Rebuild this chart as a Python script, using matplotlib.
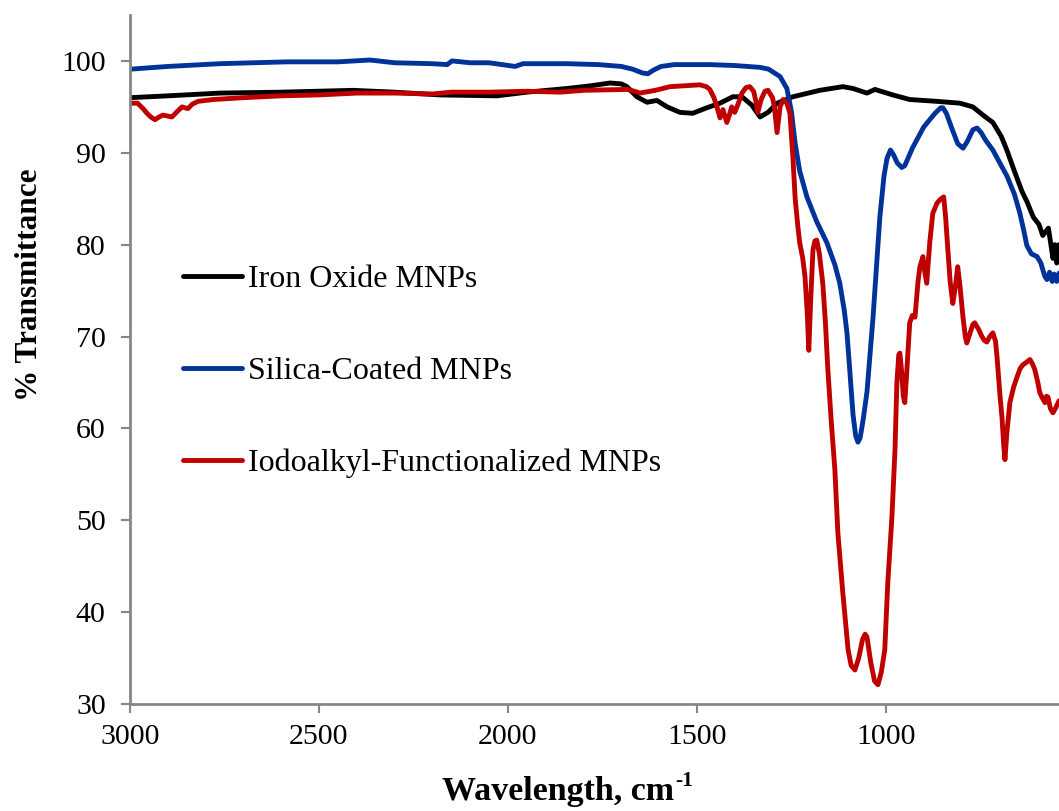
import matplotlib
matplotlib.use("Agg")
import matplotlib.pyplot as plt

plt.rcParams['font.family'] = ['Liberation Serif', 'DejaVu Serif']

# ---------------- data ----------------
iron_x = [3000, 2900, 2762, 2600, 2410, 2300, 2180, 2029, 1950, 1844, 1780, 1730, 1700,
          1685, 1659, 1632, 1606, 1579, 1545, 1511, 1474, 1439, 1405, 1381, 1355, 1333,
          1312, 1288, 1246, 1175, 1114, 1087, 1065, 1050, 1029, 982, 937, 865, 804, 770,
          743, 717, 695, 680, 660, 640, 627, 610, 595, 585, 570, 558, 553, 548, 545, 542]
iron_y = [96.0, 96.2, 96.5, 96.6, 96.8, 96.6, 96.3, 96.2, 96.6, 97.0, 97.3, 97.6, 97.5,
          97.2, 96.1, 95.5, 95.7, 95.0, 94.4, 94.3, 94.9, 95.4, 96.1, 96.1, 95.2, 93.9,
          94.4, 95.4, 96.1, 96.8, 97.2, 97.0, 96.7, 96.5, 96.9, 96.3, 95.8, 95.6, 95.4, 95.0,
          94.1, 93.3, 91.8, 90.3, 88.0, 85.8, 84.7, 83.0, 82.2, 81.0, 81.8, 78.5, 80.0, 78.0,
          79.5, 80.0]

silica_x = [3000, 2900, 2762, 2585, 2450, 2365, 2300, 2200, 2161, 2148, 2100, 2050, 1981,
            1960, 1900, 1844, 1760, 1700, 1670, 1645, 1630, 1615, 1595, 1560, 1466, 1400,
            1333, 1310, 1299, 1280, 1262, 1250, 1240, 1228, 1209, 1183, 1156, 1135, 1122,
            1110, 1103, 1095, 1087, 1080, 1074, 1068, 1060, 1050, 1034, 1016, 1005, 997,
            988, 980, 970, 958, 950, 930, 900, 870, 855, 849, 840, 825, 810, 796, 785, 770,
            759, 748, 735, 717, 700, 680, 660, 646, 635, 627, 615, 600, 590, 580, 574, 567,
            560, 555, 548, 542]
silica_y = [99.1, 99.4, 99.7, 99.9, 99.9, 100.1, 99.8, 99.7, 99.6, 100.0, 99.8, 99.8, 99.4,
            99.7, 99.7, 99.7, 99.6, 99.4, 99.1, 98.7, 98.6, 99.0, 99.4, 99.6, 99.6, 99.5,
            99.3, 99.1, 98.8, 98.3, 97.0, 94.5, 91.0, 88.0, 85.2, 82.5, 80.2, 77.8, 75.8,
            72.8, 70.4, 66.0, 61.5, 59.2, 58.5, 59.0, 61.0, 64.0, 72.1, 83.0, 87.5, 89.4,
            90.3, 89.8, 88.9, 88.4, 88.6, 90.5, 92.8, 94.3, 94.9, 94.9, 94.3, 92.6, 91.0,
            90.5, 91.2, 92.5, 92.7, 92.2, 91.3, 90.3, 89.0, 87.5, 85.5, 83.5, 81.5, 79.9,
            79.0, 78.7, 78.0, 76.6, 76.2, 77.0, 76.0, 76.8, 76.0, 76.9]

iodo_x = [3000, 2980, 2965, 2955, 2945, 2934, 2923, 2913, 2900, 2889, 2875, 2862, 2847, 2835,
          2820, 2780, 2700, 2600, 2500, 2400, 2300, 2200, 2150, 2050, 1950, 1862, 1800, 1685,
          1665, 1651, 1610, 1571, 1530, 1492, 1475, 1466, 1455, 1447, 1439, 1431, 1421, 1415,
          1408, 1400, 1392, 1381, 1370, 1360, 1350, 1345, 1339, 1330, 1320, 1312, 1300, 1295,
          1288, 1280, 1272, 1262, 1254, 1246, 1240, 1233, 1228, 1220, 1214, 1208, 1204, 1199,
          1193, 1188, 1183, 1176, 1167, 1160, 1154, 1145, 1135, 1127, 1114, 1100, 1092, 1082,
          1072, 1062, 1055, 1050, 1040, 1030, 1021, 1012, 1003, 995, 984, 976, 971, 966, 963,
          958, 954, 950, 945, 937, 930, 923, 915, 910, 902, 897, 892, 888, 884, 876, 865, 857,
          847, 842, 836, 830, 823, 816, 810, 804, 796, 790, 786, 778, 770, 765, 755, 746, 740,
          733, 725, 717, 710, 706, 698, 693, 688, 685, 680, 672, 662, 653, 645, 638, 628, 619,
          612, 606, 598, 593, 586, 579, 575, 571, 565, 558, 550, 542]
iodo_y = [95.4, 95.4, 94.8, 94.3, 93.9, 93.6, 93.9, 94.1, 94.0, 93.9, 94.5, 95.0, 94.8, 95.3,
          95.6, 95.8, 96.0, 96.2, 96.3, 96.5, 96.5, 96.4, 96.6, 96.6, 96.7, 96.6, 96.8, 96.9,
          96.7, 96.5, 96.8, 97.2, 97.3, 97.4, 97.2, 96.9, 96.0, 95.0, 93.8, 94.7, 93.3, 94.0,
          95.0, 94.4, 95.2, 96.5, 97.1, 97.2, 96.7, 95.8, 94.4, 95.8, 96.7, 96.8, 96.0, 95.0,
          92.2, 95.0, 95.8, 95.4, 94.3, 89.5, 85.0, 82.0, 80.2, 78.5, 76.5, 72.5, 68.5, 74.0,
          79.4, 80.4, 80.5, 79.0, 75.8, 71.5, 66.7, 61.0, 55.5, 48.6, 42.1, 35.9, 34.2, 33.7,
          35.0, 37.0, 37.6, 37.3, 34.5, 32.5, 32.1, 33.5, 35.9, 43.2, 50.4, 57.6, 64.9, 68.0, 68.2,
          66.0, 63.5, 62.8, 66.0, 71.5, 72.3, 72.1, 76.0, 77.6, 78.7, 77.0, 75.8, 78.0, 80.2, 83.4,
          84.5, 84.9, 85.2, 83.0, 79.4, 76.0, 73.6, 75.5, 77.6, 75.5, 72.1, 70.0, 69.3, 70.3,
          71.3, 71.5, 70.8, 70.0, 69.6, 69.4, 70.0, 70.4, 69.5, 67.8, 63.5, 61.3, 58.0, 56.6,
          59.5, 62.8, 64.5, 65.6, 66.5, 66.9, 67.2, 67.5, 67.0, 66.4, 65.0, 63.9, 63.3, 62.8,
          63.5, 63.4, 62.2, 61.7, 62.3, 63.0]

series_labels = ["Iron Oxide MNPs", "Silica-Coated MNPs", "Iodoalkyl-Functionalized MNPs"]
x_ticks = [3000, 2500, 2000, 1500, 1000]
y_ticks = [30, 40, 50, 60, 70, 80, 90, 100]

# ---------------- figure ----------------
W, H = 1059, 811
fig = plt.figure(figsize=(W / 100, H / 100), dpi=100)
ax = fig.add_axes([130 / W, 1 - 704 / H, (W - 130) / W, (704 - 15) / H])

colors = ["#000000", "#003399", "#C00000"]
lw = 3.5
ax.plot(iron_x, iron_y, color=colors[0], lw=lw, label=series_labels[0],
        solid_joinstyle='round', solid_capstyle='round')
ax.plot(silica_x, silica_y, color=colors[1], lw=lw, label=series_labels[1],
        solid_joinstyle='round', solid_capstyle='round')
ax.plot(iodo_x, iodo_y, color=colors[2], lw=lw, label=series_labels[2],
        solid_joinstyle='round', solid_capstyle='round')

ax.set_xlim(3000, 542)
ax.set_ylim(30, 105)
ax.set_xticks(x_ticks)
ax.set_yticks(y_ticks)
ax.set_xticklabels([str(v) for v in x_ticks])
ax.set_yticklabels([str(v) for v in y_ticks])

gray = "#868686"
for s in ['top', 'right']:
    ax.spines[s].set_visible(False)
for s in ['left', 'bottom']:
    ax.spines[s].set_color(gray)
    ax.spines[s].set_linewidth(2.0)
ax.tick_params(axis='both', direction='out', color=gray, width=1.5, length=6.5,
               labelsize=21.5, labelcolor='black')
ax.tick_params(axis='y', pad=11)
ax.tick_params(axis='x', pad=8)

leg = ax.legend(loc='upper left', bbox_to_anchor=((183 - 130) / (W - 130), (704 - 265) / 689),
                frameon=False, fontsize=23, handlelength=1.85, handletextpad=0.2,
                labelspacing=1.95, borderpad=0, borderaxespad=0)

fig.text(30 / W, 1 - 285 / H, "% Transmittance", rotation=90, ha='center', va='center',
         fontsize=22.5, fontweight='bold')

# x label with a small superscript "-1"
main = fig.text(442 / W, 1 - 800 / H, "Wavelength, cm", ha='left', va='baseline',
                fontsize=24.5, fontweight='bold')
fig.canvas.draw()
bb = main.get_window_extent(renderer=fig.canvas.get_renderer())
fig.text((bb.x1 + 1) / W, 1 - 786 / H, "-1", ha='left', va='baseline',
         fontsize=15.5, fontweight='bold')

fig.savefig("out.png", dpi=100)
